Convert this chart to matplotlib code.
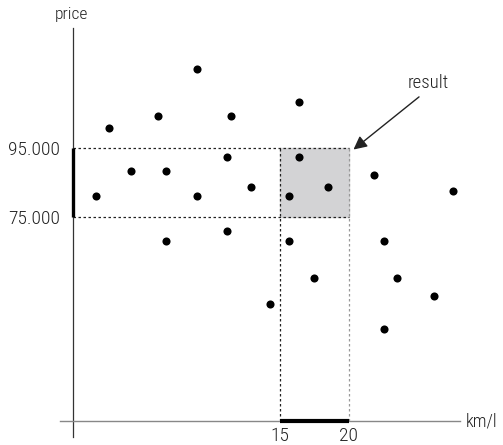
import matplotlib
matplotlib.use("Agg")
import matplotlib.pyplot as plt

plt.rcParams['font.family'] = ['Roboto Condensed', 'DejaVu Sans']
plt.rcParams['font.weight'] = 'light'

# fuel economy (km/l) and price of the cars
kmpl = [1.67, 2.63, 4.22, 6.16, 6.76, 6.76, 9.03, 9.03, 11.16, 11.16,
        11.45, 12.92, 14.30, 15.65, 15.65, 16.42, 16.42, 17.49, 18.48,
        21.81, 22.56, 22.56, 23.52, 26.20, 27.54]
price = [81300, 101000, 88500, 104400, 88500, 68200, 118100, 81300, 92400,
         71100, 104400, 83800, 49700, 81300, 68200, 108600, 92400, 57350,
         83800, 87210, 68200, 42600, 57350, 52000, 82560]

kmpl_range = [15, 20]
price_range = [75000, 95000]
xtick_labels = ["15", "20"]
ytick_labels = ["95.000", "75.000"]

fig = plt.figure(figsize=(5.03, 4.45), dpi=100)
ax = fig.add_axes([60 / 503, 8 / 445, 400 / 503, 409 / 445])
ax.set_xlim(-0.92, 28.07)
ax.set_ylim(11133, 130029)

y_base = 15785
ax.spines['left'].set_position(('data', 0))
ax.spines['bottom'].set_position(('data', y_base))
ax.spines['right'].set_visible(False)
ax.spines['top'].set_visible(False)
ax.spines['left'].set_color('#333333')
ax.spines['bottom'].set_color('#888888')
ax.spines['left'].set_linewidth(0.9)
ax.spines['bottom'].set_linewidth(1.0)

ax.set_xticks(kmpl_range, xtick_labels)
ax.set_yticks(price_range[::-1], ytick_labels)
ax.tick_params(axis='both', length=0, labelsize=14, colors='#222222')
ax.tick_params(axis='x', pad=4)
ax.tick_params(axis='y', pad=9)

# result box
ax.fill_between(kmpl_range, price_range[0], price_range[1],
                color='#d3d3d5', zorder=1)
for p in price_range:
    ax.plot([0, kmpl_range[1]], [p, p], ls=(0, (2, 2)), lw=0.9,
            color='#222222', zorder=2)
ax.plot([kmpl_range[0]] * 2, [y_base, price_range[1]], ls=(0, (2, 2)),
        lw=0.9, color='#222222', zorder=2)
ax.plot([kmpl_range[1]] * 2, [y_base, price_range[1]], ls=(0, (2, 2)),
        lw=0.9, color='#999999', zorder=2)

# highlighted ranges on the axes
ax.plot([0, 0], price_range, color='black', lw=2.4, solid_capstyle='butt',
        zorder=4)
ax.plot(kmpl_range, [y_base, y_base], color='black', lw=3,
        solid_capstyle='butt', zorder=4, clip_on=False)

ax.scatter(kmpl, price, s=34, color='black', zorder=5, linewidths=0)

ax.text(25.75, 113900, "result", ha='center', va='center', fontsize=13.5,
        color='#222222')
ax.annotate("", xy=(20.35, 94700), xytext=(25.1, 110000),
            arrowprops=dict(arrowstyle='-|>', color='#222222', lw=1.0,
                            mutation_scale=20, shrinkA=0, shrinkB=0))

fig.text(71 / 503, 1 - 14 / 445, "price", ha='center', va='center',
         fontsize=12.5, color='#222222')
fig.text(466 / 503, 1 - 421 / 445, "km/l", ha='left', va='center',
         fontsize=13, color='#222222')

fig.savefig("out.png", dpi=100)
